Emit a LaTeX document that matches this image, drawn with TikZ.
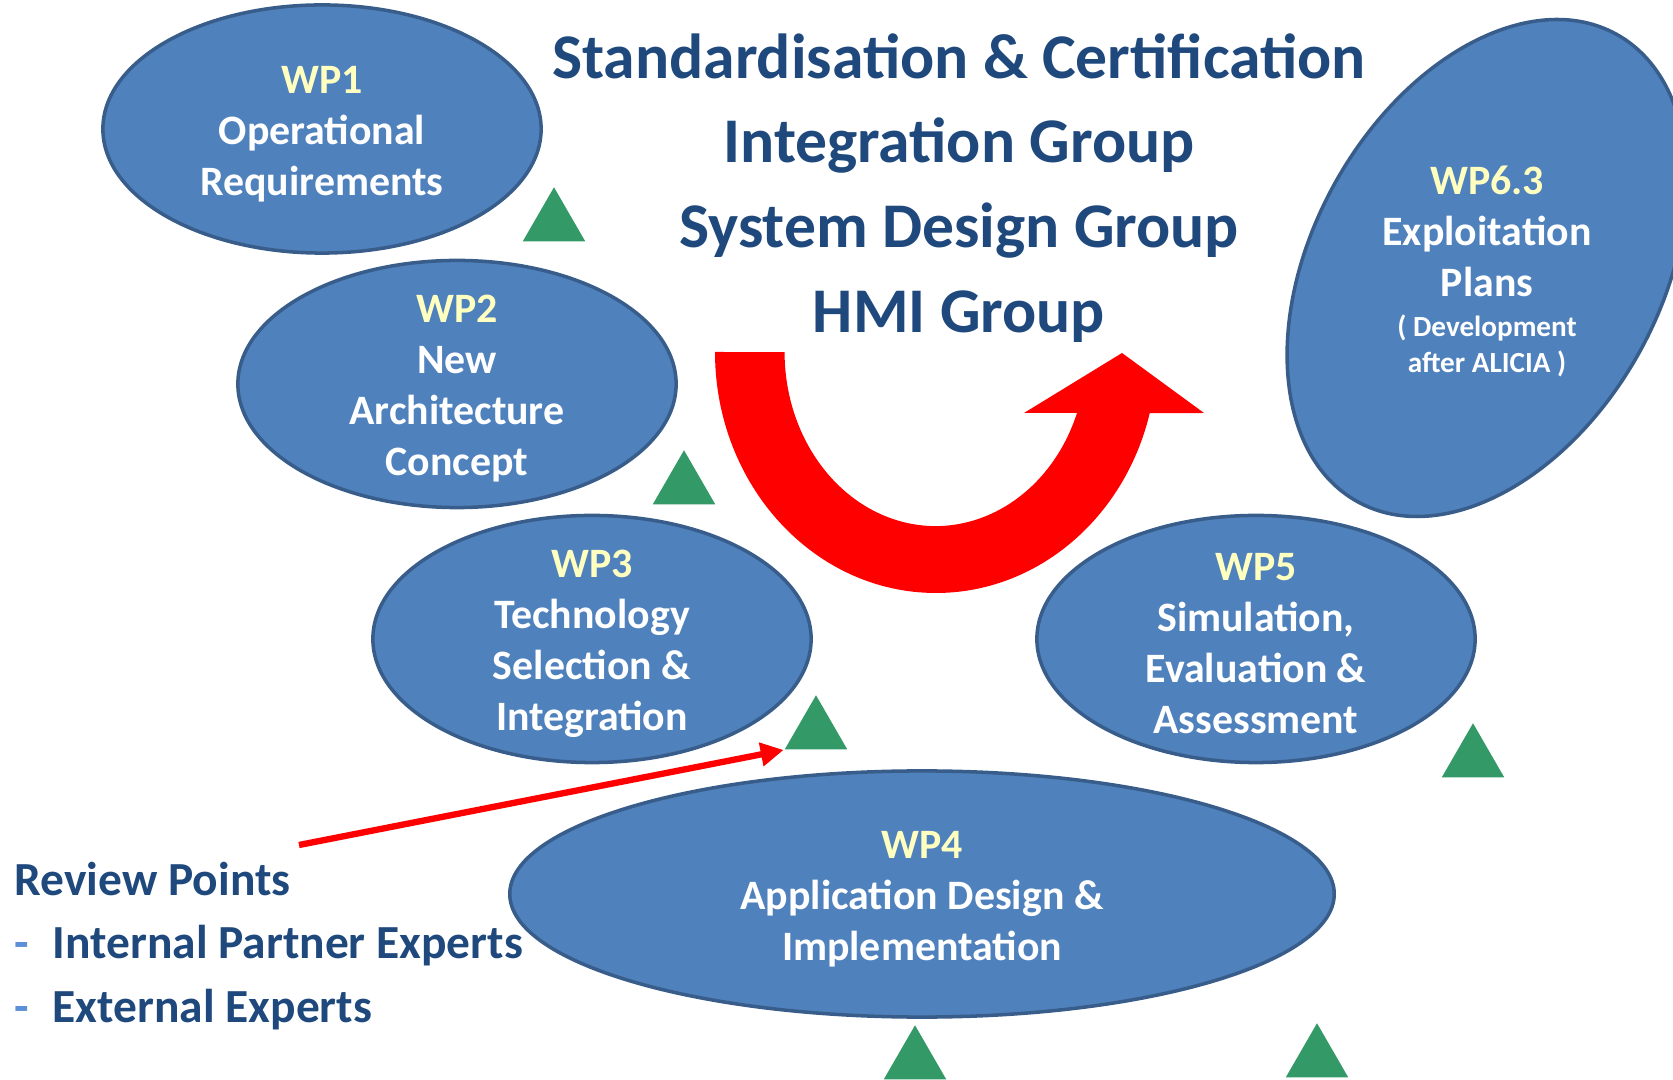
\documentclass[tikz,border=0pt]{standalone}
\usepackage{fontspec}
\setmainfont{Carlito}
\usepackage{xcolor}
\usepackage{tikz}
\usetikzlibrary{arrows.meta, shapes.geometric}

\definecolor{wpblue}{HTML}{4F81BD}
\definecolor{wpedge}{HTML}{385D8A}
\definecolor{wpyellow}{HTML}{FFFFC0}
\definecolor{titleblue}{HTML}{1F497D}
\definecolor{rpgreen}{HTML}{339966}
\definecolor{dashblue}{HTML}{5B8FD6}

% work package number in pale yellow
\newcommand{\wpno}[1]{\textcolor{wpyellow}{#1}}
\newcommand{\smalltxt}{\fontsize{8.3}{10}\selectfont}

\begin{document}
\begin{tikzpicture}[
    x=0.01cm, y=-0.01cm,
    wp/.style={ellipse, draw=wpedge, fill=wpblue, line width=1pt,
               inner sep=0pt},
    wptext/.style={align=center, text=white, inner sep=0pt, yshift=-0.05cm,
                   font=\bfseries\fontsize{11.9}{14.5}\selectfont},
    rp/.style={regular polygon, regular polygon sides=3, fill=rpgreen,
               minimum size=0.72cm, inner sep=0pt, anchor=south},
    arrow/.style={-{Triangle[length=6.5pt, width=6.5pt]}, red,
                  line width=1.8pt}
  ]
    \useasboundingbox (0,0) rectangle (1673,1080);
    \clip (0,0) rectangle (1673,1080);

    % work packages
    \node[wp, minimum width=4.38cm, minimum height=2.48cm] (wp1) at (322,129) {};
    \node[wp, minimum width=4.38cm, minimum height=2.47cm] (wp2) at (457,384) {};
    \node[wp, minimum width=4.38cm, minimum height=2.47cm] (wp3) at (592,639) {};
    \node[wp, minimum width=8.24cm, minimum height=2.46cm] (wp4) at (922,894) {};
    \node[wp, minimum width=4.38cm, minimum height=2.47cm] (wp5) at (1256,639) {};
    \node[wp, minimum width=5.34cm, minimum height=3.48cm, rotate=61]
      (wp6) at (1487,268) {};

    \node[wptext] (wp1txt) at (wp1) {\wpno{WP1}\\Operational\\Requirements};
    \node[wptext] (wp2txt) at (wp2) {\wpno{WP2}\\New\\Architecture\\Concept};
    \node[wptext] (wp3txt) at (wp3)
      {\wpno{WP3}\\Technology\\Selection \&\\Integration};
    \node[wptext] (wp4txt) at (wp4)
      {\wpno{WP4}\\Application Design \&\\Implementation};
    \node[wptext] (wp5txt) at (wp5)
      {\wpno{WP5}\\Simulation,\\Evaluation \&\\Assessment};
    \node[wptext, yshift=0.02cm] (wp6txt) at (wp6.center)
      {\wpno{WP6.3}\\Exploitation\\Plans\\[-0.11cm]\smalltxt ( Development\\[-0.15cm]\smalltxt after ALICIA )};

    % groups
    \node[align=center, text=titleblue, inner sep=0pt,
          font=\bfseries\fontsize{18.1}{24.1}\selectfont] (groups) at (959,188)
      {Standardisation \& Certification\\Integration Group\\System Design Group\\HMI Group};

    % loop arrow
    \fill[red] (715,352) arc[start angle=180, end angle=14.7, x radius=221, y radius=241]
      -- (1204,413) -- (1122,353) -- (1024,413) -- (1077,413)
      arc[start angle=20.5, end angle=180, x radius=151, y radius=174] -- cycle;

    % review points
    \node[rp] (rp1) at (554,242) {};
    \node[rp] (rp2) at (684,505) {};
    \node[rp] (rp3) at (816,750) {};
    \node[rp] (rp4) at (1473,778) {};
    \node[rp] (rp5) at (915,1080) {};
    \node[rp] (rp6) at (1317,1078) {};

    \node[align=left, anchor=north west, text=titleblue, inner sep=0pt,
          font=\bfseries\fontsize{13.5}{18.07}\selectfont] (review) at (14,861)
      {Review Points\\
       \makebox[10.8pt][l]{\textcolor{dashblue}{-}}Internal Partner Experts\\
       \makebox[10.8pt][l]{\textcolor{dashblue}{-}}External Experts};

    \coordinate (revstart) at (299,845);
    \draw[arrow] (revstart) -- (rp3.corner 2);
\end{tikzpicture}
\end{document}
